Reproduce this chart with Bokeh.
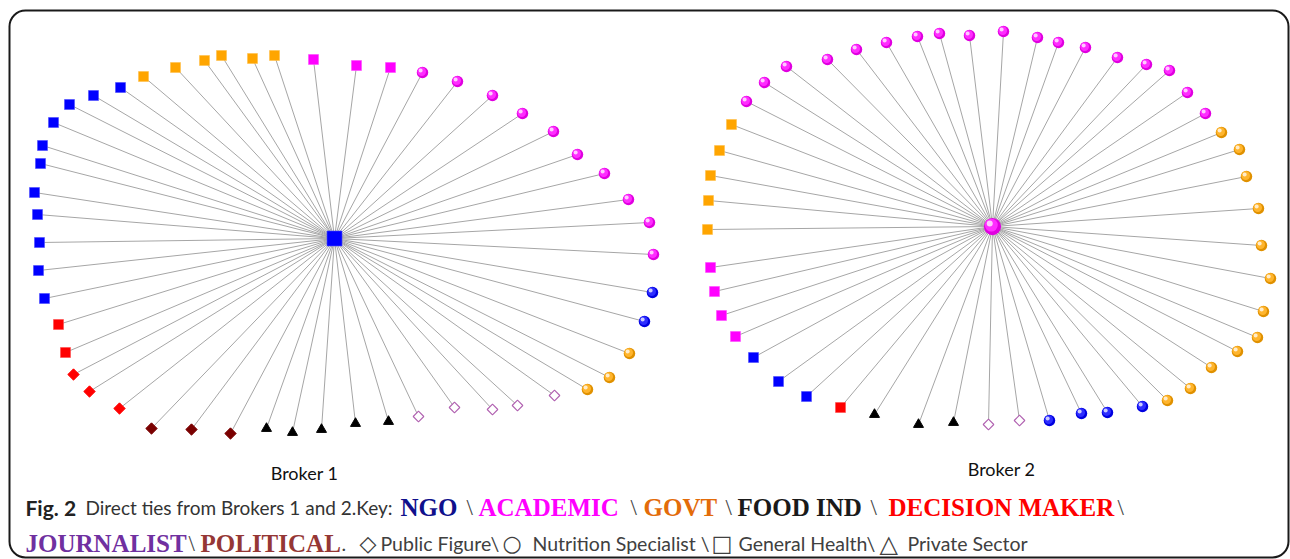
import math
from bokeh.plotting import figure
from bokeh.models import Range1d, BoxAnnotation
from bokeh.core.properties import value
from bokeh.embed import file_html
from bokeh.resources import INLINE

# ---------------- data ----------------
# node categories
sector_names = ["NGO", "ACADEMIC", "GOVT", "FOOD IND", "DECISION MAKER", "JOURNALIST", "POLITICAL"]
role_names = ["Public Figure", "Nutrition Specialist", "General Health", "Private Sector"]

# Broker 1 (hub) and its direct ties (layout coordinates)
b1_hub = {"x": 334, "y": 238, "sector": "NGO", "role": "General Health"}
b1_x = [143, 175, 204, 221, 252, 274,
        313, 356, 390,
        120, 93, 69, 53, 42, 40, 34, 37, 39, 38, 44,
        58, 65,
        73, 89, 119,
        151, 191, 230,
        266, 292, 321, 355, 388,
        418, 454, 492, 517, 554,
        587, 609, 629,
        644, 652,
        653, 649, 628, 604, 577, 553, 522, 492, 457, 422]
b1_y = [76, 67, 60, 55, 58, 55,
        59, 65, 67,
        87, 95, 104, 122, 145, 163, 192, 214, 242, 270, 298,
        324, 352,
        374, 391, 408,
        428, 429, 433,
        428, 432, 429, 423, 421,
        416, 407, 409, 405, 395,
        389, 377, 353,
        321, 292,
        254, 222, 199, 173, 154, 131, 113, 95, 81, 72]
b1_sector = (["GOVT"] * 6 + ["ACADEMIC"] * 3 + ["NGO"] * 11 + ["DECISION MAKER"] * 2 +
             ["DECISION MAKER"] * 3 + ["POLITICAL"] * 3 + ["FOOD IND"] * 5 + ["JOURNALIST"] * 5 +
             ["GOVT"] * 3 + ["NGO"] * 2 + ["ACADEMIC"] * 10)
b1_role = (["General Health"] * 22 + ["Public Figure"] * 6 + ["Private Sector"] * 5 +
           ["Public Figure"] * 5 + ["Nutrition Specialist"] * 15)

# Broker 2 (hub) and its direct ties
b2_hub = {"x": 992, "y": 226, "sector": "ACADEMIC", "role": "Nutrition Specialist"}
b2_x = [746, 764, 786, 827, 856, 886, 917, 939, 969, 1003, 1037, 1058, 1085, 1117, 1146, 1169, 1187, 1205,
        1221, 1239, 1246, 1258, 1261, 1270, 1263, 1257, 1237, 1211, 1190, 1167,
        1142, 1107, 1081, 1049,
        1019, 988,
        953, 918, 874,
        840,
        806, 778, 753,
        735, 721, 714, 710,
        707, 708, 710, 719, 731]
b2_y = [101, 82, 66, 59, 49, 42, 36, 33, 35, 31, 37, 42, 47, 57, 64, 70, 92, 113,
        132, 149, 176, 208, 245, 278, 311, 337, 351, 367, 388, 400,
        406, 412, 413, 420,
        420, 424,
        422, 424, 414,
        407,
        396, 381, 357,
        336, 315, 291, 267,
        229, 200, 175, 150, 124]
b2_sector = (["ACADEMIC"] * 18 + ["GOVT"] * 12 + ["NGO"] * 4 + ["JOURNALIST"] * 2 +
             ["FOOD IND"] * 3 + ["DECISION MAKER"] * 1 + ["NGO"] * 3 + ["ACADEMIC"] * 4 + ["GOVT"] * 5)
b2_role = (["Nutrition Specialist"] * 34 + ["Public Figure"] * 2 + ["Private Sector"] * 3 +
           ["General Health"] * 13)

broker_labels = ["Broker 1", "Broker 2"]

# ---------------- styles ----------------
node_color = {"NGO": "#0000FF", "ACADEMIC": "#FF00FF", "GOVT": "#FFA500", "FOOD IND": "#000000",
              "DECISION MAKER": "#FF0000", "JOURNALIST": "#B060B0", "POLITICAL": "#7A0000"}

W, H = 1290, 559
p = figure(width=W, height=H, output_backend="svg", toolbar_location=None,
           x_axis_type=None, y_axis_type=None, min_border=0,
           x_range=Range1d(0, W), y_range=Range1d(H, 0),
           background_fill_color="white", border_fill_color="white")
p.outline_line_color = None

# frame around figure
p.add_layout(BoxAnnotation(left=9, right=1288, top=10, bottom=557, border_radius=16,
                           fill_color=None, fill_alpha=0, line_color="#1a1a1a",
                           line_alpha=1.0, line_width=2))


def lighten(hexc, f):
    r, g, b = int(hexc[1:3], 16), int(hexc[3:5], 16), int(hexc[5:7], 16)
    r, g, b = [int(c + (255 - c) * f) for c in (r, g, b)]
    return "#%02x%02x%02x" % (r, g, b)


def darken(hexc, f):
    r, g, b = int(hexc[1:3], 16), int(hexc[3:5], 16), int(hexc[5:7], 16)
    r, g, b = [int(c * (1 - f)) for c in (r, g, b)]
    return "#%02x%02x%02x" % (r, g, b)


def draw_nodes(xs, ys, secs, roles, scale=1.0):
    for role in role_names:
        idx = [i for i, r in enumerate(roles) if r == role]
        if not idx:
            continue
        X = [xs[i] for i in idx]
        Y = [ys[i] for i in idx]
        C = [node_color[secs[i]] for i in idx]
        if role == "General Health":
            p.scatter(X, Y, marker="square", size=10 * scale, fill_color=C,
                      line_color=[lighten(c, 0.3) for c in C], line_width=0.6)
        elif role == "Private Sector":
            p.scatter(X, Y, marker="triangle", size=10 * scale, fill_color=C, line_color=C)
        elif role == "Public Figure":
            filled = [i for i in idx if secs[i] != "JOURNALIST"]
            hollow = [i for i in idx if secs[i] == "JOURNALIST"]
            if filled:
                p.scatter([xs[i] for i in filled], [ys[i] for i in filled], marker="square",
                          angle=math.pi / 4, size=8 * scale,
                          fill_color=[node_color[secs[i]] for i in filled],
                          line_color=[node_color[secs[i]] for i in filled])
            if hollow:
                p.scatter([xs[i] for i in hollow], [ys[i] for i in hollow], marker="square",
                          angle=math.pi / 4, size=7.5 * scale, fill_color="white",
                          line_color=[node_color[secs[i]] for i in hollow], line_width=1.1)
        else:  # Nutrition Specialist -> shaded sphere
            s = 11.5 * scale
            p.scatter(X, Y, marker="circle", size=s, fill_color=[darken(c, 0.12) for c in C],
                      line_color=None)
            p.scatter([x - s * 0.07 for x in X], [y - s * 0.08 for y in Y], marker="circle",
                      size=s * 0.75, fill_color=[lighten(c, 0.18) for c in C], line_color=None)
            p.scatter([x - s * 0.16 for x in X], [y - s * 0.18 for y in Y], marker="circle",
                      size=s * 0.35, fill_color="white", fill_alpha=0.75, line_color=None)


for hub, xs, ys, secs, roles in [(b1_hub, b1_x, b1_y, b1_sector, b1_role),
                                 (b2_hub, b2_x, b2_y, b2_sector, b2_role)]:
    n = len(xs)
    p.segment(x0=[hub["x"]] * n, y0=[hub["y"]] * n, x1=xs, y1=ys,
              line_color="#a6a6a6", line_width=1)
    draw_nodes(xs, ys, secs, roles)
    draw_nodes([hub["x"]], [hub["y"]], [hub["sector"]], [hub["role"]], scale=1.5)

# broker labels
p.text(x=[304, 1001], y=[472, 468], text=broker_labels, text_font=value("Lato"),
       text_font_size="18px", text_color="#111111", text_align="center",
       text_baseline="alphabetic")

# caption
SANS = "Lato"
SERIF = "Liberation Serif"
SYM = "DejaVu Sans"
BS = "#444444"
segments = [
    # text, x, line, font, style, color, size
    ("Fig. 2", 25, 0, SANS, "bold", "#222222", "21px"),
    ("Direct ties from Brokers 1 and 2.Key:", 85, 0, SANS, "normal", "#333333", "19px"),
    ("NGO", 400, 0, SERIF, "bold", "#10108C", "25px"),
    ("\\", 466, 0, SERIF, "normal", BS, "23px"),
    ("ACADEMIC", 478, 0, SERIF, "bold", "#FF00FF", "25px"),
    ("\\", 630, 0, SERIF, "normal", BS, "23px"),
    ("GOVT", 643, 0, SERIF, "bold", "#E36C0A", "25px"),
    ("\\", 725, 0, SERIF, "normal", BS, "23px"),
    ("FOOD IND", 737, 0, SERIF, "bold", "#1a1a1a", "25px"),
    ("\\", 870, 0, SERIF, "normal", BS, "23px"),
    ("DECISION MAKER", 888, 0, SERIF, "bold", "#FF0000", "25px"),
    ("\\", 1117, 0, SERIF, "normal", BS, "23px"),
    ("JOURNALIST", 25, 1, SERIF, "bold", "#7030A0", "25px"),
    ("\\", 188, 1, SERIF, "normal", BS, "23px"),
    ("POLITICAL", 200, 1, SERIF, "bold", "#953735", "25px"),
    (".", 341, 1, SANS, "normal", "#404040", "19.5px"),
    ("\u25C7", 359, 1, SYM, "normal", "#404040", "22px"),
    ("Public Figure\\", 380, 1, SANS, "normal", "#404040", "19.5px"),
    ("\u25CB", 502, 1, SYM, "normal", "#404040", "22px"),
    ("Nutrition Specialist \\", 532, 1, SANS, "normal", "#404040", "19.5px"),
    ("\u25A1", 711, 1, SYM, "normal", "#404040", "22px"),
    ("General Health\\", 738, 1, SANS, "normal", "#404040", "19.5px"),
    ("\u25B3", 879, 1, SYM, "normal", "#404040", "24px"),
    ("Private Sector", 907, 1, SANS, "normal", "#404040", "19.5px"),
]
baselines = [507, 543]
for t, x, line, font, style, color, size in segments:
    p.text(x=[x], y=[baselines[line]], text=[t], text_font=value(font), text_font_style=style,
           text_color=color, text_font_size=size, text_align="left", text_baseline="alphabetic")

open("out.html", "w").write(file_html(p, INLINE))
